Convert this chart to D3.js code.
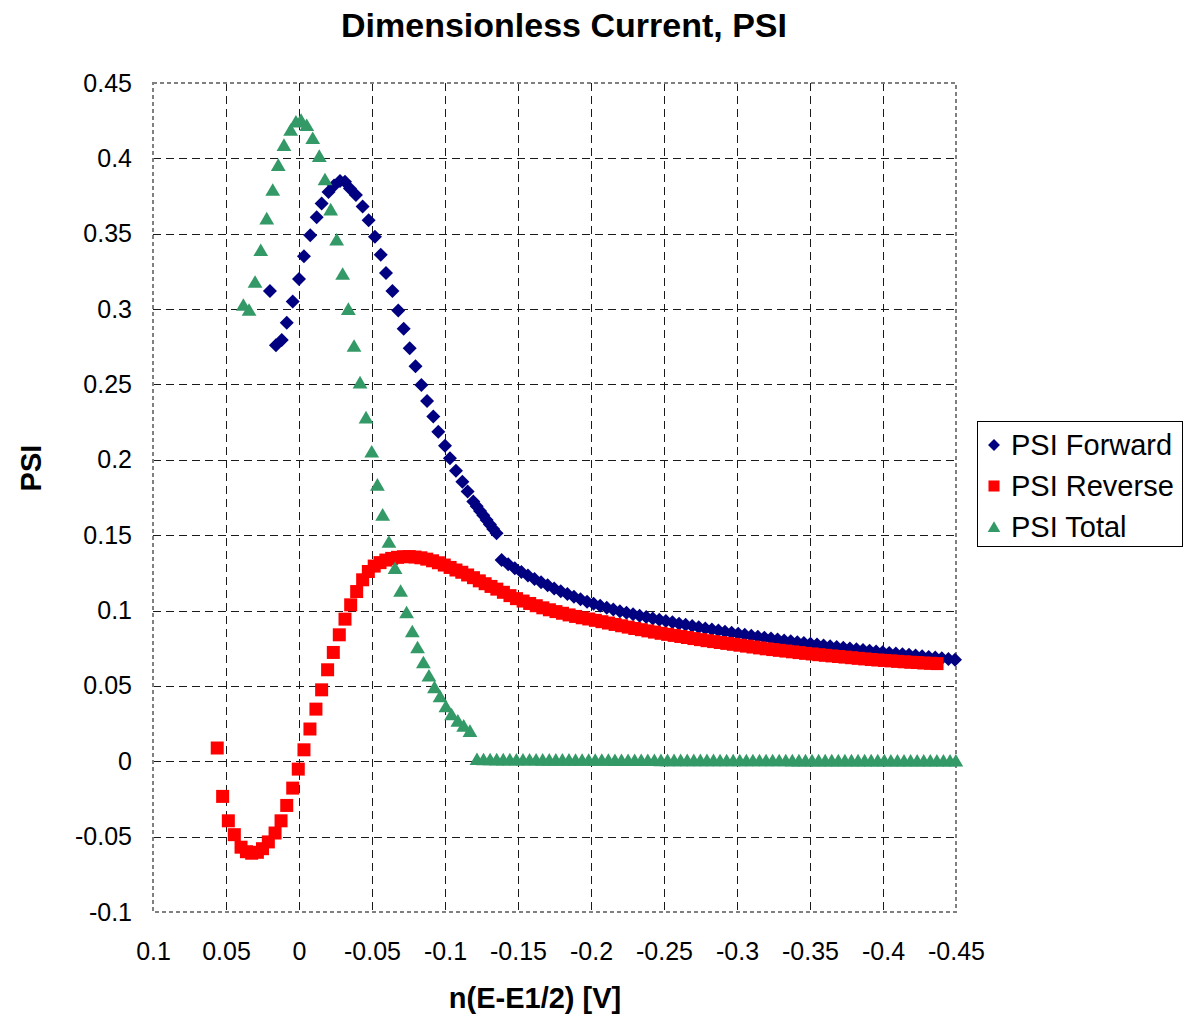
<!DOCTYPE html>
<html><head><meta charset="utf-8">
<script src="https://cdn.jsdelivr.net/npm/d3@7"></script>
<style>body{margin:0;background:#fff}svg{display:block}text{font-family:"Liberation Sans",Arial,sans-serif}</style>
</head><body>
<script>
const chartTitle = "Dimensionless Current, PSI";
const xTitle = "n(E-E1/2) [V]";
const yTitle = "PSI";
const seriesNames = ["PSI Forward", "PSI Reverse", "PSI Total"];
const xTicks = [0.1, 0.05, 0, -0.05, -0.1, -0.15, -0.2, -0.25, -0.3, -0.35, -0.4, -0.45];
const xTickLabels = ["0.1", "0.05", "0", "-0.05", "-0.1", "-0.15", "-0.2", "-0.25", "-0.3", "-0.35", "-0.4", "-0.45"];
const yTicks = [0.45, 0.4, 0.35, 0.3, 0.25, 0.2, 0.15, 0.1, 0.05, 0, -0.05, -0.1];
const yTickLabels = ["0.45", "0.4", "0.35", "0.3", "0.25", "0.2", "0.15", "0.1", "0.05", "0", "-0.05", "-0.1"];

const fwdX = [0.0199,0.0158,0.0118,0.0084,0.0043,0,-0.0034,-0.0077,-0.0121,-0.0155,-0.0202,-0.024,-0.0281,-0.0315,-0.0349,-0.039,-0.0436,-0.0477,-0.052,-0.056,-0.0596,-0.064,-0.068,-0.0717,-0.0758,-0.0798,-0.0838,-0.0877,-0.092,-0.0954,-0.1,-0.1034,-0.1075,-0.1119,-0.1155,-0.1194,-0.1217,-0.124,-0.1262,-0.1285,-0.1308,-0.133,-0.1353,
-0.1388,-0.1433,-0.1478,-0.1523,-0.1568,-0.1613,-0.1658,-0.1703,-0.1748,-0.1793,-0.1838,-0.1883,-0.1928,-0.1973,-0.2018,-0.2063,-0.2108,-0.2153,-0.2198,-0.2243,-0.2288,-0.2333,-0.2378,-0.2423,-0.2468,-0.2513,-0.2558,-0.2603,-0.2648,-0.2693,-0.2738,-0.2783,-0.2828,-0.2873,-0.2918,-0.2963,-0.3008,-0.3053,-0.3098,-0.3143,-0.3188,-0.3233,-0.3278,-0.3323,-0.3368,-0.3413,-0.3458,-0.3503,-0.3548,-0.3593,-0.3638,-0.3683,-0.3728,-0.3773,-0.3818,-0.3863,-0.3908,-0.3953,-0.3998,-0.4043,-0.4088,-0.4133,-0.4178,-0.4223,-0.4268,-0.4313,-0.4358,-0.4403,-0.4448,-0.4493];
const fwdY = [0.312,0.276,0.2795,0.291,0.305,0.32,0.335,0.349,0.361,0.37,0.3777,0.382,0.385,0.3845,0.38,0.3757,0.368,0.359,0.348,0.336,0.324,0.312,0.299,0.287,0.274,0.262,0.2497,0.239,0.2287,0.2187,0.2094,0.201,0.1928,0.1855,0.179,0.1723,0.1692,0.1661,0.1632,0.1601,0.1571,0.1541,0.1512,
0.1336,0.1307,0.128,0.1256,0.1232,0.1209,0.1188,0.1167,0.1147,0.1128,0.111,0.1092,0.1075,0.1059,0.1045,0.1032,0.1019,0.1007,0.0996,0.0986,0.0976,0.0966,0.0957,0.0948,0.0939,0.093,0.0922,0.0913,0.0905,0.0897,0.0889,0.0881,0.0874,0.0867,0.0859,0.0852,0.0846,0.0839,0.0833,0.0826,0.082,0.0814,0.0808,0.0802,0.0796,0.079,0.0785,0.0779,0.0774,0.0768,0.0763,0.0758,0.0753,0.0748,0.0743,0.0738,0.0733,0.0729,0.0724,0.0719,0.0715,0.071,0.0706,0.0701,0.0697,0.0692,0.0688,0.0683,0.0679,0.0674];

const revX = [0.056,0.0523,0.0484,0.0443,0.0397,0.036,0.0324,0.0285,0.025,0.021,0.0164,0.0123,0.0084,0.0043,0.0005,-0.0034,-0.0075,-0.0116,-0.0155,-0.0196,-0.0235,-0.0276,-0.0315,-0.0354,-0.0395,-0.0436,-0.0475,
-0.0515,-0.0555,-0.0595,-0.0635,-0.0675,-0.0715,-0.0755,-0.0795,-0.0835,-0.0875,-0.0915,-0.0955,-0.0995,-0.1035,-0.1075,-0.1115,-0.1155,-0.1195,-0.1235,-0.1275,-0.1315,-0.1355,
-0.14,-0.1445,-0.149,-0.1535,-0.158,-0.1625,-0.167,-0.1715,-0.176,-0.1805,-0.185,-0.1895,-0.194,-0.1985,-0.203,-0.2075,-0.212,-0.2165,-0.221,-0.2255,-0.23,-0.2345,-0.239,-0.2435,-0.248,-0.2525,-0.257,-0.2615,-0.266,-0.2705,-0.275,-0.2795,-0.284,-0.2885,-0.293,-0.2975,-0.302,-0.3065,-0.311,-0.3155,-0.32,-0.3245,-0.329,-0.3335,-0.338,-0.3425,-0.347,-0.3515,-0.356,-0.3605,-0.365,-0.3695,-0.374,-0.3785,-0.383,-0.3875,-0.392,-0.3965,-0.401,-0.4055,-0.41,-0.4145,-0.419,-0.4235,-0.428,-0.4325,-0.437];
const revY = [0.0088,-0.0233,-0.0395,-0.0487,-0.057,-0.06,-0.061,-0.0604,-0.058,-0.0535,-0.0476,-0.0395,-0.0293,-0.0178,-0.0052,0.0076,0.0214,0.0346,0.0474,0.0607,0.0722,0.0839,0.0943,0.1038,0.1126,0.1204,0.1259,
0.1295,0.1318,0.1335,0.1346,0.1353,0.1357,0.1358,0.1355,0.135,0.1341,0.133,0.1317,0.1302,0.1286,0.1269,0.1254,0.1236,0.1218,0.1197,0.1178,0.116,0.1142,
0.1121,0.1099,0.1079,0.1063,0.1047,0.1032,0.1018,0.1005,0.0993,0.0982,0.0971,0.0961,0.0952,0.0944,0.0935,0.0926,0.0917,0.0908,0.0899,0.089,0.0881,0.0873,0.0865,0.0857,0.0849,0.0842,0.0835,0.0828,0.0821,0.0814,0.0807,0.08,0.0794,0.0788,0.0782,0.0776,0.077,0.0764,0.0758,0.0752,0.0746,0.0741,0.0736,0.0731,0.0726,0.0721,0.0716,0.0712,0.0707,0.0703,0.0699,0.0695,0.0691,0.0687,0.0683,0.0679,0.0675,0.0672,0.0669,0.0666,0.0663,0.066,0.0657,0.0655,0.0652,0.065,0.0648];

const totX = [0.0381,0.0342,0.0301,0.0262,0.0221,0.018,0.0142,0.0103,0.0057,0.0021,-0.0014,-0.0053,-0.0094,-0.0139,-0.0178,-0.0217,-0.0258,-0.0299,-0.0338,-0.0377,-0.0418,-0.0459,-0.0498,-0.0537,-0.0573,-0.0616,-0.0658,-0.0696,-0.0737,-0.0776,-0.0812,-0.0852,-0.089,-0.0928,-0.0966,-0.1006,-0.1045,-0.1088,-0.1128,-0.1171,
-0.1219,-0.1264,-0.1309,-0.1354,-0.1399,-0.1444,-0.1489,-0.1534,-0.1579,-0.1624,-0.1669,-0.1714,-0.1759,-0.1804,-0.1849,-0.1894,-0.1939,-0.1984,-0.2029,-0.2074,-0.2119,-0.2164,-0.2209,-0.2254,-0.2299,-0.2344,-0.2389,-0.2434,-0.2479,-0.2524,-0.2569,-0.2614,-0.2659,-0.2704,-0.2749,-0.2794,-0.2839,-0.2884,-0.2929,-0.2974,-0.3019,-0.3064,-0.3109,-0.3154,-0.3199,-0.3244,-0.3289,-0.3334,-0.3379,-0.3424,-0.3469,-0.3514,-0.3559,-0.3604,-0.3649,-0.3694,-0.3739,-0.3784,-0.3829,-0.3874,-0.3919,-0.3964,-0.4009,-0.4054,-0.4099,-0.4144,-0.4189,-0.4234,-0.4279,-0.4324,-0.4369,-0.4414,-0.4459,-0.4499];
const totY = [0.3027,0.2994,0.318,0.339,0.36,0.379,0.3955,0.4088,0.4188,0.4243,0.4254,0.422,0.4133,0.4015,0.386,0.366,0.346,0.3233,0.3,0.2755,0.2512,0.228,0.2054,0.1834,0.1635,0.1455,0.1281,0.113,0.0987,0.0861,0.0755,0.0655,0.0567,0.049,0.043,0.0363,0.031,0.0268,0.0235,0.02,
0.0013,0.0012,0.0012,0.0011,0.0011,0.0011,0.001,0.001,0.001,0.001,0.0009,0.0009,0.0009,0.0009,0.0009,0.0008,0.0008,0.0008,0.0008,0.0008,0.0008,0.0007,0.0007,0.0007,0.0007,0.0007,0.0007,0.0007,0.0006,0.0006,0.0006,0.0006,0.0006,0.0006,0.0006,0.0006,0.0006,0.0005,0.0005,0.0005,0.0005,0.0005,0.0005,0.0005,0.0005,0.0005,0.0005,0.0005,0.0004,0.0004,0.0004,0.0004,0.0004,0.0004,0.0004,0.0004,0.0004,0.0004,0.0004,0.0004,0.0004,0.0004,0.0004,0.0003,0.0003,0.0003,0.0003,0.0003,0.0003,0.0003,0.0003,0.0003,0.0003,0.0003];

const colors = ["#000080", "#FF0000", "#339966"];
const shapes = ["diamond", "square", "triangle"];

const W = 1187, H = 1018;
const M = {left: 153, right: 956, top: 83, bottom: 912};
const FONT = '"Liberation Sans", Arial, sans-serif';

const svg = d3.select("body").append("svg").attr("width", W).attr("height", H);

const x = d3.scaleLinear().domain([0.1, -0.45]).range([M.left, M.right]);
const y = d3.scaleLinear().domain([0.45, -0.1]).range([M.top, M.bottom]);

// grid
const grid = svg.append("g");
grid.selectAll("line.v").data(xTicks.slice(1, -1)).join("line")
  .attr("x1", d => Math.round(x(d)) + 0.5).attr("x2", d => Math.round(x(d)) + 0.5)
  .attr("y1", M.top).attr("y2", M.bottom)
  .attr("stroke", "#1a1a1a").attr("stroke-width", 1).attr("stroke-dasharray", "8,5");
grid.selectAll("line.h").data(yTicks.slice(1, -1)).join("line")
  .attr("y1", d => Math.round(y(d)) + 0.5).attr("y2", d => Math.round(y(d)) + 0.5)
  .attr("x1", M.left).attr("x2", M.right)
  .attr("stroke", "#1a1a1a").attr("stroke-width", 1).attr("stroke-dasharray", "8,5");

// plot border
svg.append("rect").attr("x", M.left).attr("y", M.top)
  .attr("width", M.right - M.left).attr("height", M.bottom - M.top)
  .attr("fill", "none").attr("stroke", "#808080").attr("stroke-width", 2)
  .attr("stroke-dasharray", "4,3");

// axes (labels only)
const xAxis = d3.axisBottom(x).tickValues(xTicks).tickSize(0).tickPadding(0)
  .tickFormat((d, i) => xTickLabels[i]);
const gx = svg.append("g").attr("transform", `translate(0,${M.bottom + 30})`).call(xAxis);
gx.select(".domain").remove();
gx.selectAll("text").attr("font-size", 25).attr("fill", "#000").attr("dy", "0.71em")
  .attr("font-family", FONT);

const yAxis = d3.axisLeft(y).tickValues(yTicks).tickSize(0).tickPadding(0)
  .tickFormat((d, i) => yTickLabels[i]);
const gy = svg.append("g").attr("transform", `translate(${M.left - 21},0)`).call(yAxis);
gy.select(".domain").remove();
gy.selectAll("text").attr("font-size", 25).attr("fill", "#000")
  .attr("font-family", FONT);

// symbols
function sym(shape) {
  if (shape === "diamond") return "M0,-7L7,0L0,7L-7,0Z";
  if (shape === "square") return "M-6.5,-6.5H6.5V6.5H-6.5Z";
  return "M0,-6.8L7.4,5.8L-7.4,5.8Z";
}

const series = [
  {xs: fwdX, ys: fwdY},
  {xs: revX, ys: revY},
  {xs: totX, ys: totY}
];
series.forEach((s, k) => {
  const n = Math.min(s.xs.length, s.ys.length);
  const pts = d3.range(n).map(i => [s.xs[i], s.ys[i]]);
  svg.append("g").selectAll("path").data(pts).join("path")
    .attr("d", sym(shapes[k]))
    .attr("transform", d => `translate(${x(d[0])},${y(d[1])})`)
    .attr("fill", colors[k]);
});

// titles
svg.append("text").attr("x", 564).attr("y", 37).attr("text-anchor", "middle")
  .attr("font-size", 34).attr("font-weight", "bold").text(chartTitle);
svg.append("text").attr("x", 535).attr("y", 1008).attr("text-anchor", "middle")
  .attr("font-size", 29).attr("font-weight", "bold").text(xTitle);
svg.append("text").attr("transform", "translate(41,468) rotate(-90)").attr("text-anchor", "middle")
  .attr("font-size", 29).attr("font-weight", "bold").text(yTitle);

// legend
const lg = svg.append("g");
lg.append("rect").attr("x", 977.5).attr("y", 421.5).attr("width", 205).attr("height", 125)
  .attr("fill", "#fff").attr("stroke", "#000").attr("stroke-width", 1);
const rowsY = [445, 486, 527];
seriesNames.forEach((name, k) => {
  lg.append("path").attr("d", sym(shapes[k]))
    .attr("transform", `translate(994,${rowsY[k]}) scale(0.85)`).attr("fill", colors[k]);
  lg.append("text").attr("x", 1011).attr("y", rowsY[k]).attr("dy", "0.36em")
    .attr("font-size", 29).text(name);
});
</script>
</body></html>
